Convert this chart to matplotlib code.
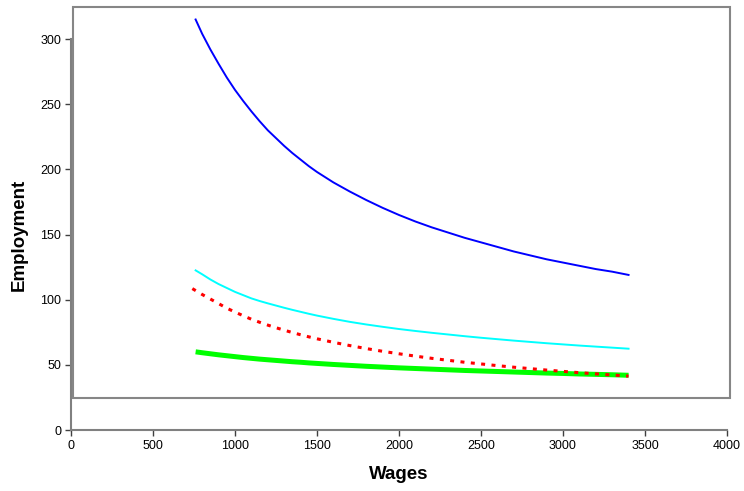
import matplotlib
matplotlib.use("Agg")
import matplotlib.pyplot as plt
from matplotlib.patches import Rectangle

plt.rcParams['font.family'] = ['Liberation Sans', 'DejaVu Sans']

wages = [760, 800, 850, 900, 950, 1000, 1050, 1100, 1150, 1200, 1250, 1300, 1350, 1400, 1450, 1500,
         1600, 1700, 1800, 1900, 2000, 2100, 2200, 2300, 2400, 2500, 2600, 2700, 2800, 2900,
         3000, 3100, 3200, 3300, 3400]

blue = [315, 304, 292, 281, 270.5, 261, 252.5, 244.5, 237, 230, 224, 218, 212.5, 207.5, 202.5, 198,
        190, 183, 176.5, 170.5, 165, 160, 155.5, 151.5, 147.5, 144, 140.5, 137, 134, 131,
        128.5, 126, 123.5, 121.5, 119]
cyan = [122.5, 119.5, 115.5, 112, 109, 106, 103.5, 101, 99, 97.2, 95.5, 93.8, 92.2, 90.7, 89.2, 87.8,
        85.3, 83, 81, 79.2, 77.5, 76, 74.6, 73.3, 72, 70.8, 69.7, 68.6, 67.6, 66.6,
        65.7, 64.8, 64, 63.2, 62.4]
red_wages = [740] + wages[1:]
red = [108.5, 104, 100.5, 97, 93.5, 90.5, 87.7, 85, 82.7, 80.5, 78.5, 76.6, 74.8, 73.1, 71.5, 70,
       67.3, 64.8, 62.5, 60.4, 58.5, 56.7, 55, 53.5, 52, 50.7, 49.4, 48.2, 47.1, 46,
       45, 44, 43.1, 42.2, 41.4]
green = [60, 59.3, 58.5, 57.7, 57, 56.3, 55.6, 55, 54.4, 53.9, 53.4, 52.9, 52.4, 52, 51.5, 51.1,
         50.3, 49.6, 48.9, 48.3, 47.7, 47.2, 46.7, 46.2, 45.7, 45.3, 44.9, 44.5, 44.1, 43.7,
         43.4, 43, 42.7, 42.4, 42]

xticks = [0, 500, 1000, 1500, 2000, 2500, 3000, 3500, 4000]
yticks = [0, 50, 100, 150, 200, 250, 300]

fig = plt.figure(figsize=(7.44, 4.91), dpi=100)

# gray plot-area frame (Excel style)
fig.patches.append(Rectangle((0.0981, 0.1894), 0.8831, 0.7963, transform=fig.transFigure,
                             fill=False, edgecolor='#868686', linewidth=1.5, zorder=0))

ax = fig.add_axes([0.0954, 0.1242, 0.8817, 0.7963])
ax.patch.set_visible(False)

ax.plot(wages, blue, color='#0000FF', lw=1.4, clip_on=False)
ax.plot(wages, cyan, color='#00FFFF', lw=1.4, clip_on=False)
ax.plot(wages, green, color='#00FF00', lw=3.6, clip_on=False, solid_capstyle='butt')
ax.plot(red_wages, red, color='#FF0000', lw=2.2, linestyle=(0, (1.3, 2.1)), clip_on=False)

ax.set_xlim(0, 4000)
ax.set_ylim(0, 300)
ax.set_xticks(xticks)
ax.set_yticks(yticks)

for s in ['top', 'right']:
    ax.spines[s].set_visible(False)
for s in ['left', 'bottom']:
    ax.spines[s].set_color('#808080')
    ax.spines[s].set_linewidth(1.5)
ax.tick_params(direction='out', length=4, width=1, color='#404040', labelsize=9, pad=3)

ax.set_xlabel('Wages', fontsize=13.5, fontweight='bold', labelpad=10)
ax.set_ylabel('Employment', fontsize=13.5, fontweight='bold', labelpad=9)

fig.savefig('out.png', dpi=100)
